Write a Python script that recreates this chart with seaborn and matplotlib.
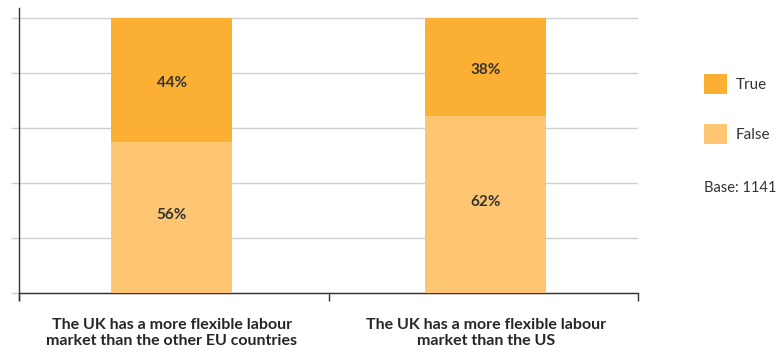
import matplotlib
matplotlib.use("Agg")
import matplotlib.pyplot as plt
import seaborn as sns
import pandas as pd
from matplotlib.patches import Patch

categories = ["The UK has a more flexible labour\nmarket than the other EU countries",
              "The UK has a more flexible labour\nmarket than the US"]
# bar segment heights as drawn in the picture
false_vals = [55, 64.4]
true_vals = [45, 35.6]
# value labels as printed
false_labels = ["56%", "62%"]
true_labels = ["44%", "38%"]
series = ["True", "False"]
colors = {"True": "#FBB034", "False": "#FEC672"}
base_text = "Base: 1141"

sns.set_theme(style="white")
plt.rcParams["font.family"] = ["Lato", "DejaVu Sans"]

df = pd.DataFrame({"cat": categories, "True": true_vals, "False": false_vals})
df["total"] = df["True"] + df["False"]

fig = plt.figure(figsize=(7.76, 3.52), dpi=100)
ax = fig.add_axes([19/776, (352-300)/352, (638-19)/776, 292/352])

sns.barplot(data=df, x="cat", y="total", color=colors["True"], width=0.385,
            saturation=1, ax=ax, zorder=2, linewidth=0, edgecolor="none")
sns.barplot(data=df, x="cat", y="False", color=colors["False"], width=0.385,
            saturation=1, ax=ax, zorder=3, linewidth=0, edgecolor="none")

for i in range(len(categories)):
    f = false_vals[i]; t = true_vals[i]
    ax.text(i, f/2 + 1, false_labels[i], ha="center", va="center", fontsize=11,
            fontweight="bold", color="#333333", zorder=4)
    ax.text(i, f + t/2 - 1, true_labels[i], ha="center", va="center", fontsize=11,
            fontweight="bold", color="#333333", zorder=4)

ax.set_xlim(-0.486, 1.485)
ax.set_ylim(-2.5, 103.6)
ax.set_yticks([0, 20, 40, 60, 80, 100])
ax.set_yticklabels([])
ax.yaxis.grid(True, color="#cfcfcf", linewidth=1, zorder=0)
ax.set_axisbelow(True)
ax.tick_params(axis="y", which="major", length=6, color="#cfcfcf", width=1, left=True)

ax.set_xticks([-0.486, 0.5, 1.485], minor=True)
ax.tick_params(axis="x", which="minor", length=6, color="#333333", width=1, bottom=True)
ax.tick_params(axis="x", which="major", length=0, pad=18)
ax.set_xlabel("")
ax.set_ylabel("")
ax.set_xticks([0, 1])
ax.set_xticklabels(categories, fontsize=11.5, color="#333333", linespacing=1.45)

for s in ["top", "right"]:
    ax.spines[s].set_visible(False)
ax.spines["bottom"].set_position(("data", 0))
ax.spines["bottom"].set_color("#333333")
ax.spines["left"].set_color("#333333")
ax.spines["bottom"].set_linewidth(1)
ax.spines["left"].set_linewidth(1)

handles = [Patch(facecolor=colors[s], edgecolor="none", label=s) for s in series]
fig.legend(handles=handles, loc="upper left", bbox_to_anchor=(704/776, 1 - 74/352),
           frameon=False, fontsize=11, handlelength=1.5, handleheight=1.6,
           handletextpad=0.55, labelspacing=2.0, labelcolor="#333333",
           borderaxespad=0, borderpad=0)
fig.text(704/776, 1 - 188/352, base_text, ha="left", va="center", fontsize=10.5,
         color="#333333")

fig.canvas.draw()
for tick in ax.xaxis.get_major_ticks():
    tick.label1.set_fontweight("bold")
    tick.label1.set_fontsize(11.5)

fig.savefig("out.png", dpi=100)
